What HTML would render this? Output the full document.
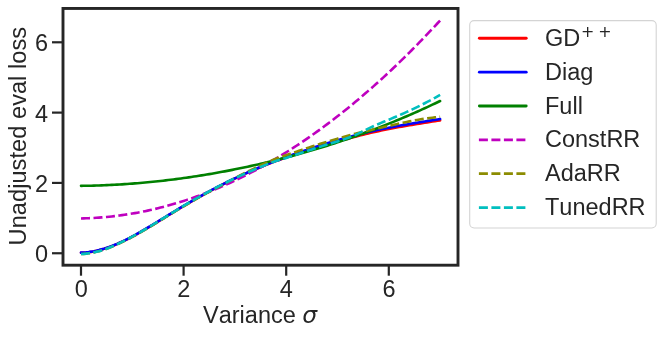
<!DOCTYPE html>
<html lang="en"><head><meta charset="utf-8"><title>Unadjusted eval loss vs variance</title>
<style>html,body{margin:0;padding:0;background:#fff;overflow:hidden}svg text{white-space:pre;font-kerning:none}svg{will-change:transform;opacity:0.999}</style></head>
<body>
<svg width="664" height="337" viewBox="0 0 664 337" style="display:block">
<rect x="0" y="0" width="664" height="337" fill="#ffffff"/>
<g fill="none" stroke-width="2.6" stroke-linejoin="round">
<path d="M81.00,252.80 L83.56,252.70 L86.13,252.51 L88.69,252.23 L91.26,251.87 L93.83,251.42 L96.39,250.89 L98.95,250.28 L101.52,249.60 L104.09,248.84 L106.65,248.02 L109.22,247.13 L111.78,246.18 L114.34,245.17 L116.91,244.10 L119.47,242.98 L122.04,241.80 L124.61,240.58 L127.17,239.32 L129.74,238.01 L132.30,236.66 L134.87,235.28 L137.43,233.87 L140.00,232.42 L142.56,230.95 L145.12,229.45 L147.69,227.94 L150.25,226.40 L152.82,224.85 L155.38,223.29 L157.95,221.72 L160.51,220.14 L163.08,218.57 L165.64,216.99 L168.21,215.41 L170.77,213.84 L173.34,212.28 L175.91,210.72 L178.47,209.18 L181.03,207.64 L183.60,206.12 L186.17,204.60 L188.73,203.10 L191.29,201.61 L193.86,200.13 L196.43,198.66 L198.99,197.21 L201.56,195.77 L204.12,194.34 L206.69,192.93 L209.25,191.53 L211.81,190.15 L214.38,188.79 L216.95,187.44 L219.51,186.11 L222.07,184.80 L224.64,183.51 L227.20,182.23 L229.77,180.98 L232.34,179.74 L234.90,178.52 L237.47,177.31 L240.03,176.13 L242.59,174.95 L245.16,173.80 L247.72,172.66 L250.29,171.54 L252.85,170.43 L255.42,169.34 L257.99,168.26 L260.55,167.20 L263.12,166.15 L265.68,165.11 L268.25,164.09 L270.81,163.08 L273.38,162.08 L275.94,161.10 L278.50,160.16 L281.07,159.24 L283.63,158.33 L286.20,157.43 L288.76,156.54 L291.33,155.66 L293.89,154.80 L296.46,153.94 L299.02,153.09 L301.59,152.25 L304.15,151.41 L306.72,150.59 L309.28,149.77 L311.85,148.97 L314.41,148.17 L316.98,147.38 L319.55,146.60 L322.11,145.83 L324.67,145.07 L327.24,144.32 L329.81,143.57 L332.37,142.84 L334.94,142.12 L337.50,141.41 L340.06,140.71 L342.63,140.02 L345.19,139.34 L347.76,138.67 L350.32,137.98 L352.89,137.29 L355.45,136.62 L358.02,135.96 L360.58,135.31 L363.15,134.67 L365.72,134.05 L368.28,133.43 L370.85,132.84 L373.41,132.25 L375.97,131.68 L378.54,131.12 L381.11,130.57 L383.67,130.04 L386.24,129.52 L388.80,129.01 L391.37,128.52 L393.93,128.03 L396.50,127.56 L399.06,127.09 L401.62,126.64 L404.19,126.19 L406.75,125.75 L409.32,125.31 L411.88,124.88 L414.45,124.46 L417.02,124.04 L419.58,123.62 L422.14,123.21 L424.71,122.80 L427.27,122.40 L429.84,121.99 L432.41,121.59 L434.97,121.18 L437.53,120.77 L440.10,120.37" stroke="#ff0000" stroke-linecap="round"/>
<path d="M81.00,252.59 L83.56,252.49 L86.13,252.30 L88.69,252.02 L91.26,251.66 L93.83,251.21 L96.39,250.68 L98.95,250.07 L101.52,249.38 L104.09,248.63 L106.65,247.81 L109.22,246.92 L111.78,245.97 L114.34,244.95 L116.91,243.89 L119.47,242.76 L122.04,241.59 L124.61,240.37 L127.17,239.11 L129.74,237.80 L132.30,236.45 L134.87,235.07 L137.43,233.66 L140.00,232.21 L142.56,230.74 L145.12,229.24 L147.69,227.73 L150.25,226.19 L152.82,224.64 L155.38,223.08 L157.95,221.51 L160.51,219.93 L163.08,218.35 L165.64,216.77 L168.21,215.20 L170.77,213.63 L173.34,212.06 L175.91,210.51 L178.47,208.97 L181.03,207.43 L183.60,205.91 L186.17,204.39 L188.73,202.89 L191.29,201.40 L193.86,199.92 L196.43,198.45 L198.99,197.00 L201.56,195.56 L204.12,194.13 L206.69,192.72 L209.25,191.32 L211.81,189.94 L214.38,188.58 L216.95,187.23 L219.51,185.90 L222.07,184.59 L224.64,183.30 L227.20,182.02 L229.77,180.77 L232.34,179.53 L234.90,178.31 L237.47,177.10 L240.03,175.91 L242.59,174.74 L245.16,173.59 L247.72,172.45 L250.29,171.33 L252.85,170.22 L255.42,169.13 L257.99,168.05 L260.55,166.99 L263.12,165.94 L265.68,164.90 L268.25,163.88 L270.81,162.87 L273.38,161.87 L275.94,160.88 L278.50,159.91 L281.07,158.95 L283.63,158.00 L286.20,157.06 L288.76,156.13 L291.33,155.21 L293.89,154.30 L296.46,153.40 L299.02,152.51 L301.59,151.63 L304.15,150.76 L306.72,149.90 L309.28,149.04 L311.85,148.19 L314.41,147.36 L316.98,146.53 L319.55,145.71 L322.11,144.90 L324.67,144.09 L327.24,143.30 L329.81,142.52 L332.37,141.75 L334.94,140.99 L337.50,140.23 L340.06,139.49 L342.63,138.76 L345.19,138.04 L347.76,137.34 L350.32,136.64 L352.89,135.96 L355.45,135.28 L358.02,134.62 L360.58,133.97 L363.15,133.33 L365.72,132.71 L368.28,132.10 L370.85,131.50 L373.41,130.91 L375.97,130.34 L378.54,129.78 L381.11,129.24 L383.67,128.70 L386.24,128.19 L388.80,127.68 L391.37,127.18 L393.93,126.70 L396.50,126.22 L399.06,125.76 L401.62,125.30 L404.19,124.85 L406.75,124.41 L409.32,123.97 L411.88,123.55 L414.45,123.12 L417.02,122.70 L419.58,122.29 L422.14,121.88 L424.71,121.47 L427.27,121.06 L429.84,120.65 L432.41,120.25 L434.97,119.84 L437.53,119.44 L440.10,119.03" stroke="#0000ff" stroke-linecap="round"/>
<path d="M81.00,185.85 L83.56,185.82 L86.13,185.78 L88.69,185.74 L91.26,185.68 L93.83,185.62 L96.39,185.54 L98.95,185.46 L101.52,185.37 L104.09,185.27 L106.65,185.16 L109.22,185.05 L111.78,184.92 L114.34,184.79 L116.91,184.65 L119.47,184.50 L122.04,184.34 L124.61,184.17 L127.17,183.99 L129.74,183.81 L132.30,183.62 L134.87,183.42 L137.43,183.21 L140.00,182.99 L142.56,182.77 L145.12,182.53 L147.69,182.29 L150.25,182.04 L152.82,181.78 L155.38,181.52 L157.95,181.24 L160.51,180.96 L163.08,180.67 L165.64,180.37 L168.21,180.07 L170.77,179.75 L173.34,179.43 L175.91,179.10 L178.47,178.77 L181.03,178.42 L183.60,178.07 L186.17,177.71 L188.73,177.34 L191.29,176.96 L193.86,176.57 L196.43,176.18 L198.99,175.78 L201.56,175.37 L204.12,174.96 L206.69,174.53 L209.25,174.10 L211.81,173.66 L214.38,173.21 L216.95,172.76 L219.51,172.30 L222.07,171.82 L224.64,171.35 L227.20,170.86 L229.77,170.36 L232.34,169.86 L234.90,169.35 L237.47,168.83 L240.03,168.31 L242.59,167.78 L245.16,167.23 L247.72,166.68 L250.29,166.13 L252.85,165.56 L255.42,164.99 L257.99,164.41 L260.55,163.82 L263.12,163.22 L265.68,162.62 L268.25,162.00 L270.81,161.38 L273.38,160.75 L275.94,160.12 L278.50,159.47 L281.07,158.82 L283.63,158.16 L286.20,157.49 L288.76,156.81 L291.33,156.13 L293.89,155.43 L296.46,154.73 L299.02,154.02 L301.59,153.30 L304.15,152.57 L306.72,151.84 L309.28,151.09 L311.85,150.34 L314.41,149.58 L316.98,148.81 L319.55,148.03 L322.11,147.25 L324.67,146.45 L327.24,145.65 L329.81,144.84 L332.37,144.02 L334.94,143.19 L337.50,142.35 L340.06,141.50 L342.63,140.64 L345.19,139.78 L347.76,138.91 L350.32,138.02 L352.89,137.13 L355.45,136.23 L358.02,135.32 L360.58,134.40 L363.15,133.47 L365.72,132.53 L368.28,131.58 L370.85,130.63 L373.41,129.66 L375.97,128.68 L378.54,127.70 L381.11,126.70 L383.67,125.70 L386.24,124.68 L388.80,123.66 L391.37,122.63 L393.93,121.58 L396.50,120.53 L399.06,119.46 L401.62,118.39 L404.19,117.30 L406.75,116.21 L409.32,115.10 L411.88,113.99 L414.45,112.86 L417.02,111.73 L419.58,110.58 L422.14,109.42 L424.71,108.25 L427.27,107.07 L429.84,105.88 L432.41,104.68 L434.97,103.47 L437.53,102.25 L440.10,101.01" stroke="#008000" stroke-linecap="round"/>
<path d="M81.00,218.43 L83.56,218.37 L86.13,218.29 L88.69,218.20 L91.26,218.08 L93.83,217.94 L96.39,217.79 L98.95,217.61 L101.52,217.42 L104.09,217.20 L106.65,216.97 L109.22,216.72 L111.78,216.45 L114.34,216.15 L116.91,215.84 L119.47,215.51 L122.04,215.16 L124.61,214.80 L127.17,214.41 L129.74,214.00 L132.30,213.57 L134.87,213.13 L137.43,212.66 L140.00,212.18 L142.56,211.67 L145.12,211.15 L147.69,210.61 L150.25,210.04 L152.82,209.46 L155.38,208.86 L157.95,208.24 L160.51,207.60 L163.08,206.94 L165.64,206.26 L168.21,205.56 L170.77,204.85 L173.34,204.11 L175.91,203.35 L178.47,202.58 L181.03,201.78 L183.60,200.96 L186.17,200.13 L188.73,199.28 L191.29,198.40 L193.86,197.51 L196.43,196.60 L198.99,195.67 L201.56,194.71 L204.12,193.74 L206.69,192.75 L209.25,191.74 L211.81,190.71 L214.38,189.67 L216.95,188.60 L219.51,187.51 L222.07,186.40 L224.64,185.28 L227.20,184.13 L229.77,182.96 L232.34,181.78 L234.90,180.57 L237.47,179.35 L240.03,178.10 L242.59,176.84 L245.16,175.56 L247.72,174.25 L250.29,172.93 L252.85,171.59 L255.42,170.23 L257.99,168.85 L260.55,167.45 L263.12,166.03 L265.68,164.59 L268.25,163.13 L270.81,161.65 L273.38,160.15 L275.94,158.63 L278.50,157.09 L281.07,155.54 L283.63,153.96 L286.20,152.36 L288.76,150.75 L291.33,149.11 L293.89,147.45 L296.46,145.78 L299.02,144.08 L301.59,142.37 L304.15,140.64 L306.72,138.88 L309.28,137.11 L311.85,135.31 L314.41,133.50 L316.98,131.67 L319.55,129.82 L322.11,127.95 L324.67,126.05 L327.24,124.14 L329.81,122.21 L332.37,120.26 L334.94,118.29 L337.50,116.30 L340.06,114.29 L342.63,112.26 L345.19,110.21 L347.76,108.14 L350.32,106.05 L352.89,103.94 L355.45,101.82 L358.02,99.67 L360.58,97.50 L363.15,95.31 L365.72,93.10 L368.28,90.88 L370.85,88.63 L373.41,86.36 L375.97,84.08 L378.54,81.77 L381.11,79.44 L383.67,77.10 L386.24,74.73 L388.80,72.35 L391.37,69.94 L393.93,67.52 L396.50,65.07 L399.06,62.61 L401.62,60.12 L404.19,57.62 L406.75,55.09 L409.32,52.55 L411.88,49.99 L414.45,47.40 L417.02,44.80 L419.58,42.18 L422.14,39.53 L424.71,36.87 L427.27,34.19 L429.84,31.48 L432.41,28.76 L434.97,26.02 L437.53,23.25 L440.10,20.47" stroke="#bf00bf" stroke-dasharray="9.0 3.5"/>
<path d="M81.00,253.99 L83.56,253.86 L86.13,253.63 L88.69,253.31 L91.26,252.90 L93.83,252.41 L96.39,251.83 L98.95,251.17 L101.52,250.44 L104.09,249.63 L106.65,248.73 L109.22,247.76 L111.78,246.72 L114.34,245.63 L116.91,244.48 L119.47,243.29 L122.04,242.06 L124.61,240.81 L127.17,239.53 L129.74,238.22 L132.30,236.87 L134.87,235.49 L137.43,234.08 L140.00,232.63 L142.56,231.16 L145.12,229.66 L147.69,228.15 L150.25,226.61 L152.82,225.06 L155.38,223.50 L157.95,221.93 L160.51,220.36 L163.08,218.78 L165.64,217.20 L168.21,215.62 L170.77,214.05 L173.34,212.49 L175.91,210.93 L178.47,209.39 L181.03,207.85 L183.60,206.33 L186.17,204.81 L188.73,203.31 L191.29,201.82 L193.86,200.34 L196.43,198.87 L198.99,197.42 L201.56,195.98 L204.12,194.55 L206.69,193.14 L209.25,191.74 L211.81,190.36 L214.38,189.00 L216.95,187.65 L219.51,186.32 L222.07,185.01 L224.64,183.72 L227.20,182.38 L229.77,180.96 L232.34,179.52 L234.90,178.13 L237.47,176.79 L240.03,175.46 L242.59,174.15 L245.16,172.87 L247.72,171.60 L250.29,170.34 L252.85,169.11 L255.42,167.90 L257.99,166.69 L260.55,165.48 L263.12,164.29 L265.68,163.11 L268.25,161.96 L270.81,160.85 L273.38,159.79 L275.94,158.78 L278.50,157.82 L281.07,156.91 L283.63,156.01 L286.20,155.13 L288.76,154.24 L291.33,153.37 L293.89,152.51 L296.46,151.66 L299.02,150.80 L301.59,149.95 L304.15,149.09 L306.72,148.24 L309.28,147.39 L311.85,146.56 L314.41,145.73 L316.98,144.91 L319.55,144.10 L322.11,143.29 L324.67,142.50 L327.24,141.71 L329.81,140.93 L332.37,140.16 L334.94,139.40 L337.50,138.65 L340.06,137.91 L342.63,137.18 L345.19,136.46 L347.76,135.75 L350.32,135.06 L352.89,134.37 L355.45,133.70 L358.02,133.04 L360.58,132.39 L363.15,131.75 L365.72,131.13 L368.28,130.52 L370.85,129.92 L373.41,129.33 L375.97,128.76 L378.54,128.20 L381.11,127.65 L383.67,127.09 L386.24,126.52 L388.80,125.94 L391.37,125.36 L393.93,124.77 L396.50,124.19 L399.06,123.60 L401.62,123.03 L404.19,122.46 L406.75,121.91 L409.32,121.38 L411.88,120.86 L414.45,120.37 L417.02,119.91 L419.58,119.48 L422.14,119.07 L424.71,118.70 L427.27,118.34 L429.84,118.01 L432.41,117.69 L434.97,117.39 L437.53,117.10 L440.10,116.82" stroke="#8c8c00" stroke-dasharray="9.0 3.5"/>
<path d="M81.00,253.99 L83.56,253.87 L86.13,253.65 L88.69,253.33 L91.26,252.92 L93.83,252.42 L96.39,251.84 L98.95,251.18 L101.52,250.44 L104.09,249.61 L106.65,248.70 L109.22,247.70 L111.78,246.64 L114.34,245.51 L116.91,244.33 L119.47,243.11 L122.04,241.85 L124.61,240.57 L127.17,239.28 L129.74,237.97 L132.30,236.61 L134.87,235.22 L137.43,233.80 L140.00,232.35 L142.56,230.87 L145.12,229.37 L147.69,227.85 L150.25,226.31 L152.82,224.75 L155.38,223.18 L157.95,221.61 L160.51,220.03 L163.08,218.44 L165.64,216.86 L168.21,215.28 L170.77,213.70 L173.34,212.13 L175.91,210.58 L178.47,209.03 L181.03,207.49 L183.60,205.96 L186.17,204.44 L188.73,202.93 L191.29,201.44 L193.86,199.96 L196.43,198.49 L198.99,197.03 L201.56,195.59 L204.12,194.16 L206.69,192.74 L209.25,191.35 L211.81,189.96 L214.38,188.60 L216.95,187.25 L219.51,185.92 L222.07,184.60 L224.64,183.31 L227.20,182.03 L229.77,180.78 L232.34,179.54 L234.90,178.31 L237.47,177.11 L240.03,175.92 L242.59,174.75 L245.16,173.59 L247.72,172.45 L250.29,171.33 L252.85,170.22 L255.42,169.13 L257.99,168.05 L260.55,166.99 L263.12,165.94 L265.68,164.90 L268.25,163.88 L270.81,162.87 L273.38,161.91 L275.94,161.03 L278.50,160.21 L281.07,159.43 L283.63,158.67 L286.20,157.90 L288.76,157.10 L291.33,156.27 L293.89,155.40 L296.46,154.55 L299.02,153.69 L301.59,152.84 L304.15,151.99 L306.72,151.13 L309.28,150.27 L311.85,149.43 L314.41,148.59 L316.98,147.76 L319.55,146.94 L322.11,146.13 L324.67,145.32 L327.24,144.53 L329.81,143.75 L332.37,142.98 L334.94,142.22 L337.50,141.46 L340.06,140.68 L342.63,139.81 L345.19,138.89 L347.76,137.93 L350.32,136.94 L352.89,135.96 L355.45,134.89 L358.02,133.69 L360.58,132.42 L363.15,131.11 L365.72,129.81 L368.28,128.58 L370.85,127.41 L373.41,126.26 L375.97,125.13 L378.54,124.01 L381.11,122.91 L383.67,121.82 L386.24,120.75 L388.80,119.70 L391.37,118.63 L393.93,117.56 L396.50,116.46 L399.06,115.34 L401.62,114.21 L404.19,113.07 L406.75,111.92 L409.32,110.76 L411.88,109.57 L414.45,108.35 L417.02,107.11 L419.58,105.84 L422.14,104.56 L424.71,103.25 L427.27,101.92 L429.84,100.57 L432.41,99.19 L434.97,97.78 L437.53,96.34 L440.10,94.88" stroke="#00bfbf" stroke-dasharray="9.0 3.5"/>
</g>
<rect x="63.0" y="8.45" width="395.0" height="256.75" fill="none" stroke="#262626" stroke-width="2.9" stroke-linejoin="miter"/>
<g stroke="#262626" stroke-width="2.2">
<line x1="81.00" y1="265.2" x2="81.00" y2="275.7"/>
<line x1="63.0" y1="253.25" x2="52.0" y2="253.25"/>
<line x1="183.60" y1="265.2" x2="183.60" y2="275.7"/>
<line x1="63.0" y1="182.93" x2="52.0" y2="182.93"/>
<line x1="286.20" y1="265.2" x2="286.20" y2="275.7"/>
<line x1="63.0" y1="112.61" x2="52.0" y2="112.61"/>
<line x1="388.80" y1="265.2" x2="388.80" y2="275.7"/>
<line x1="63.0" y1="42.29" x2="52.0" y2="42.29"/>
</g>
<g font-family='"Liberation Sans", sans-serif' font-size="23.5" fill="#262626">
<text x="81.20" y="296.7" text-anchor="middle">0</text>
<text x="48.1" y="262.45" text-anchor="end">0</text>
<text x="183.80" y="296.7" text-anchor="middle">2</text>
<text x="48.1" y="192.13" text-anchor="end">2</text>
<text x="286.40" y="296.7" text-anchor="middle">4</text>
<text x="48.1" y="121.81" text-anchor="end">4</text>
<text x="389.00" y="296.7" text-anchor="middle">6</text>
<text x="48.1" y="51.49" text-anchor="end">6</text>
<text x="203.0" y="323.1" textLength="92.8" lengthAdjust="spacing">Variance</text>
<text x="302.2" y="323.1" font-family='"DejaVu Sans", sans-serif' font-style="italic">σ</text>
<text transform="translate(25.7,245.4) rotate(-90)" textLength="218.5" lengthAdjust="spacing">Unadjusted eval loss</text>
</g>
<rect x="469.7" y="20.6" width="186.5" height="207.4" rx="4.4" ry="4.4" fill="#ffffff" stroke="#d4d4d4" stroke-width="1.1"/>
<g fill="none" stroke-width="2.9">
<line x1="479.4" y1="38.30" x2="526.2" y2="38.30" stroke="#ff0000" stroke-linecap="round"/>
<line x1="479.4" y1="72.15" x2="526.2" y2="72.15" stroke="#0000ff" stroke-linecap="round"/>
<line x1="479.4" y1="106.00" x2="526.2" y2="106.00" stroke="#008000" stroke-linecap="round"/>
<line x1="478.9" y1="139.85" x2="526.5" y2="139.85" stroke="#bf00bf" stroke-width="2.7" stroke-dasharray="9 3.5"/>
<line x1="478.9" y1="173.70" x2="526.5" y2="173.70" stroke="#8c8c00" stroke-width="2.7" stroke-dasharray="9 3.5"/>
<line x1="478.9" y1="207.55" x2="526.5" y2="207.55" stroke="#00bfbf" stroke-width="2.7" stroke-dasharray="9 3.5"/>
</g>
<g font-family='"Liberation Sans", sans-serif' font-size="23.5" fill="#262626">
<text x="545.0" y="45.90">GD</text>
<text x="545.0" y="79.75">Diag</text>
<text x="545.0" y="113.60">Full</text>
<text x="545.0" y="147.45">ConstRR</text>
<text x="545.0" y="181.30">AdaRR</text>
<text x="545.0" y="215.15">TunedRR</text>
</g>
<g font-family='"DejaVu Sans", sans-serif' font-size="15.9" fill="#262626"><text x="581.1" y="36.6">+</text><text x="598.2" y="36.6">+</text></g>
</svg>
</body></html>
